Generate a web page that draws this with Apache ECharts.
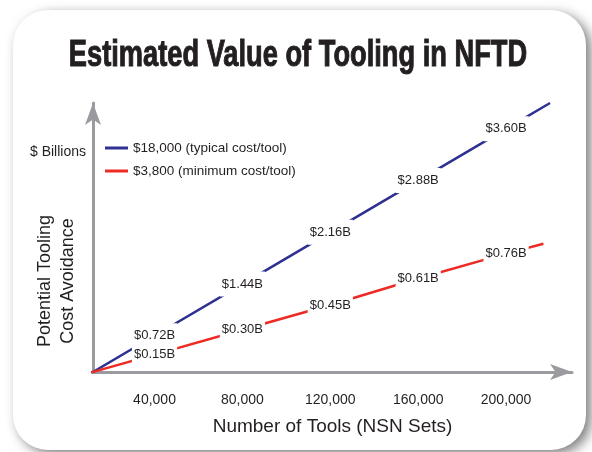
<!DOCTYPE html>
<html>
<head>
<meta charset="utf-8">
<title>Estimated Value of Tooling in NFTD</title>
<script src="https://cdn.jsdelivr.net/npm/echarts@6/dist/echarts.min.js"></script>
<style>
  html, body { margin: 0; padding: 0; background: #fff; }
  #chart { width: 592px; height: 452px; }
</style>
</head>
<body>
<div id="chart"></div>
<script>
// 工具数量 (NSN Sets)
var toolCounts = [0, 40000, 80000, 120000, 160000, 200000];
var tickValues = [40000, 80000, 120000, 160000, 200000];
// $ Billions
var typicalValues = [0, 0.72, 1.44, 2.16, 2.88, 3.60];
var minimumValues = [0, 0.15, 0.30, 0.45, 0.61, 0.76];
var typicalLabels = ['', '$0.72B', '$1.44B', '$2.16B', '$2.88B', '$3.60B'];
var minimumLabels = ['', '$0.15B', '$0.30B', '$0.45B', '$0.61B', '$0.76B'];
// 线的末端 (超过 200,000)
var typicalEnd = [220000, 3.96];
var minimumEnd = [217000, 0.82];

var FONT = 'Liberation Sans';

function buildData(xs, ys, labels, end) {
  var out = [];
  for (var i = 0; i < xs.length; i++) {
    out.push({
      value: [xs[i], ys[i]],
      label: { show: labels[i] !== '' }
    });
  }
  out.push({ value: end, label: { show: false } });
  return out;
}

var axisGray = '#9b9b9f';
var chart = echarts.init(document.getElementById('chart'));
var option = {
  animation: false,
  backgroundColor: '#fff',
  textStyle: { fontFamily: FONT },
  graphic: [
    {
      // 卡片背景 + 阴影
      type: 'rect',
      z: -10,
      shape: { x: 13, y: 10, width: 573, height: 440, r: 35 },
      style: {
        fill: '#fff',
        shadowBlur: 12,
        shadowOffsetX: 5,
        shadowOffsetY: 4,
        shadowColor: 'rgba(0,0,0,0.5)'
      }
    },
    {
      // 标题 - 压扁的粗体
      type: 'text',
      x: 298, y: 56,
      scaleX: 0.757,
      style: {
        text: 'Estimated Value of Tooling in NFTD',
        fontFamily: FONT,
        fontWeight: 'bold',
        fontSize: 36,
        fill: '#231f20',
        stroke: '#231f20',
        lineWidth: 1,
        textAlign: 'center',
        textVerticalAlign: 'middle'
      }
    },
    {
      type: 'text',
      x: 30, y: 152,
      style: {
        text: '$ Billions',
        fontFamily: FONT,
        fontSize: 14,
        fill: '#231f20',
        textVerticalAlign: 'middle'
      }
    },
    {
      type: 'text',
      x: 45, y: 281,
      rotation: Math.PI / 2,
      style: {
        text: 'Potential Tooling',
        fontFamily: FONT,
        fontSize: 18,
        fill: '#231f20',
        textAlign: 'center',
        textVerticalAlign: 'middle'
      }
    },
    {
      type: 'text',
      x: 68, y: 281,
      rotation: Math.PI / 2,
      style: {
        text: 'Cost Avoidance',
        fontFamily: FONT,
        fontSize: 18,
        fill: '#231f20',
        textAlign: 'center',
        textVerticalAlign: 'middle'
      }
    }
  ],
  legend: {
    orient: 'vertical',
    left: 105,
    top: 141,
    padding: 0,
    itemWidth: 23,
    itemHeight: 3,
    itemGap: 9,
    icon: 'rect',
    textStyle: { fontFamily: FONT, fontSize: 13.5, color: '#231f20' },
    data: ['$18,000 (typical cost/tool)', '$3,800 (minimum cost/tool)']
  },
  grid: { left: 93, right: 20, top: 103, bottom: 80 },
  xAxis: {
    type: 'value',
    min: 12000,
    max: 230000,
    name: 'Number of Tools (NSN Sets)',
    nameLocation: 'middle',
    nameGap: 45,
    nameTextStyle: { fontFamily: FONT, fontSize: 19, color: '#231f20' },
    axisLine: {
      show: true,
      lineStyle: { color: axisGray, width: 3 },
      symbol: ['none', 'arrow'],
      symbolSize: [12, 22]
    },
    axisTick: { show: false },
    splitLine: { show: false },
    axisLabel: {
      customValues: tickValues,
      margin: 21,
      fontFamily: FONT,
      fontSize: 14,
      color: '#231f20',
      formatter: function (v) { return v.toLocaleString('en-US'); }
    }
  },
  yAxis: [
    {
      type: 'value',
      min: 0.216,
      max: 3.96,
      axisLine: {
        show: true,
        lineStyle: { color: axisGray, width: 3 },
        symbol: ['none', 'arrow'],
        symbolSize: [12, 22]
      },
      axisTick: { show: false },
      axisLabel: { show: false },
      splitLine: { show: false }
    },
    {
      type: 'value',
      show: false,
      min: 0.045,
      max: 1.67,
      splitLine: { show: false }
    }
  ],
  series: [
    {
      name: '$18,000 (typical cost/tool)',
      type: 'line',
      yAxisIndex: 0,
      color: '#2e3192',
      lineStyle: { width: 2.5 },
      symbol: 'circle',
      symbolSize: 0.1,
      showAllSymbol: true,
      label: {
        position: 'inside',
        backgroundColor: '#fff',
        padding: [6, 2],
        fontFamily: FONT,
        fontSize: 13,
        color: '#231f20',
        formatter: function (p) { return typicalLabels[p.dataIndex]; }
      },
      data: buildData(toolCounts, typicalValues, typicalLabels, typicalEnd)
    },
    {
      name: '$3,800 (minimum cost/tool)',
      type: 'line',
      yAxisIndex: 1,
      color: '#ee2a24',
      lineStyle: { width: 2.5 },
      symbol: 'circle',
      symbolSize: 0.1,
      showAllSymbol: true,
      label: {
        position: 'inside',
        backgroundColor: '#fff',
        padding: [3, 2],
        fontFamily: FONT,
        fontSize: 13,
        color: '#231f20',
        formatter: function (p) { return minimumLabels[p.dataIndex]; }
      },
      data: buildData(toolCounts, minimumValues, minimumLabels, minimumEnd)
    }
  ]
};
chart.setOption(option);
</script>
</body>
</html>
